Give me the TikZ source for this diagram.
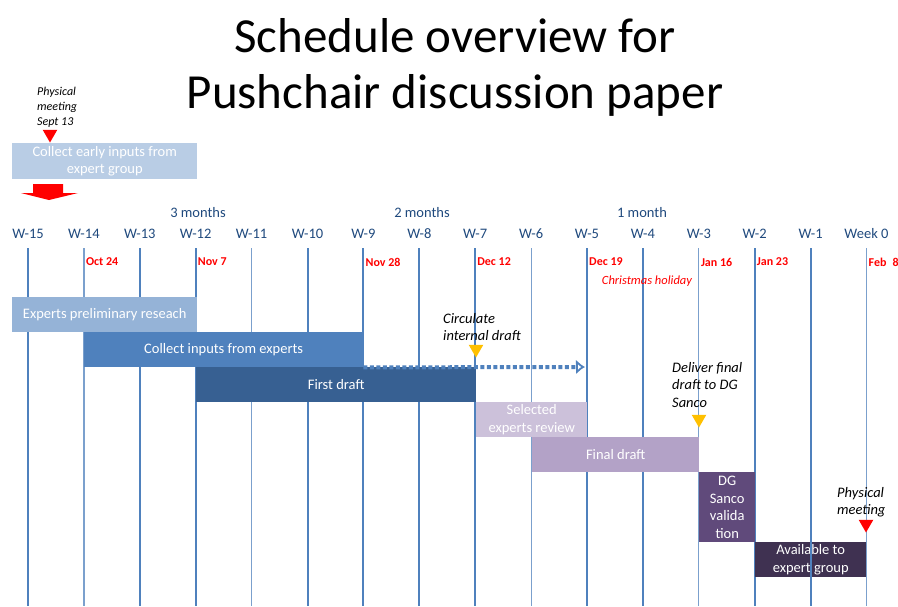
\documentclass[tikz,border=0pt]{standalone}
\usepackage{fontspec}
\setmainfont{Carlito}
\usetikzlibrary{arrows.meta,shapes.geometric}

\definecolor{lineblue}{HTML}{4F81BD}
\definecolor{weekblue}{HTML}{1F497D}
\definecolor{earlyblue}{HTML}{B9CDE5}
\definecolor{prelimblue}{HTML}{95B3D7}
\definecolor{collectblue}{HTML}{4F81BD}
\definecolor{draftblue}{HTML}{376092}
\definecolor{reviewpurple}{HTML}{CCC1DA}
\definecolor{finalpurple}{HTML}{B3A2C7}
\definecolor{dgpurple}{HTML}{604A7B}
\definecolor{availpurple}{HTML}{3F3151}
\definecolor{markyellow}{HTML}{FFC000}

\begin{document}
\begin{tikzpicture}[x=1pt, y=-1pt,
					title/.style={anchor=base, inner sep=0pt, font=\fontsize{49}{56}\selectfont},
					week line/.style={draw=lineblue, line width=2pt},
					thin week line/.style={draw=lineblue!75, line width=1.2pt},
					week label/.style={text=weekblue, inner sep=0pt, font=\fontsize{14.5}{17}\selectfont},
					date label/.style={anchor=west, inner sep=0pt, text=red, font=\fontsize{12}{14}\selectfont\bfseries},
					bar node/.style={anchor=north west, inner sep=0pt, align=center, text=white, font=\fontsize{14.5}{17.5}\selectfont},
					note node/.style={anchor=west, inner sep=0pt, align=left, font=\fontsize{14.5}{17.5}\selectfont\itshape},
					marker/.style={regular polygon, regular polygon sides=3, shape border rotate=180, minimum size=17pt, inner sep=0pt},
					dotted arrow/.style={draw=lineblue, line width=4pt, dash pattern=on 4pt off 2.5pt, -{Latex[open, length=9pt, width=15pt, line width=2.5pt]}}]

  \useasboundingbox (0,0) rectangle (898,606);

  \node[title] (title1) at (455,52) {Schedule overview for};
  \node[title] (title2) at (455,108) {Pushchair discussion paper};

  % week grid
  \foreach \i in {0,...,15} {
    \coordinate (t\i) at (28+55.9*\i,248);
    \coordinate (b\i) at (28+55.9*\i,606);
  }
  \foreach \i in {0,2,3,5,6,7,8,10,11,13,14}
    \draw[week line] (t\i) -- (b\i);
  \foreach \i in {1,4,9,12,15}
    \draw[thin week line] (t\i) -- (b\i);

  \foreach \lab [count=\i from 0] in {W-15,W-14,W-13,W-12,W-11,W-10,W-9,W-8,W-7,W-6,W-5,W-4,W-3,W-2,W-1,Week 0}
    \node[week label] (w\i) at (28+55.9*\i,234) {\lab};

  \node[week label] (m3) at (198,213) {3 months};
  \node[week label] (m2) at (422,213) {2 months};
  \node[week label] (m1) at (642,213) {1 month};

  \foreach \i/\d in {1/Oct 24,3/Nov 7,6/Nov 28,8/Dec 12,10/Dec 19,12/Jan 16,13/Jan 23,15/Feb\enspace 8}
    \node[date label] (d\i) at (30+55.9*\i,262) {\d};
  \node[text=red, inner sep=0pt, font=\fontsize{12.5}{14}\selectfont\itshape] (xmas) at (647,281) {Christmas holiday};

  % early inputs
  \node[note node, font=\fontsize{12}{15}\selectfont\itshape] (meet1) at (37,107) {Physical\\meeting\\Sept 13};
  \node[marker, fill=red] (meet1mark) at (50,134) {};
  \node[bar node, fill=earlyblue, minimum width=185pt, minimum height=36pt] (early) at (12,143) {Collect early inputs from\\expert group};
  \fill[red] (33,184) -- (63,184) -- (63,193) -- (78,193) -- (49,200) -- (21,193) -- (33,193) -- cycle;

  % bars
  \node[bar node, fill=prelimblue, minimum width=185pt, minimum height=35pt] (prelim) at (12,297) {Experts preliminary reseach};
  \node[bar node, fill=collectblue, minimum width=279pt, minimum height=35pt] (collect) at (84,332) {Collect inputs from experts};
  \node[bar node, fill=draftblue, minimum width=280pt, minimum height=35pt] (first) at (196,367) {First draft};
  \node[bar node, fill=reviewpurple, minimum width=111pt, minimum height=35pt] (review) at (476,402) {Selected\\experts review};
  \node[bar node, fill=finalpurple, minimum width=167pt, minimum height=35pt] (final) at (532,437) {Final draft};
  \node[bar node, fill=dgpurple, minimum width=56pt, minimum height=70pt] (dg) at (699,472) {DG\\Sanco\\valida\\tion};
  \node[bar node, fill=availpurple, minimum width=111pt, minimum height=35pt] (avail) at (755,542) {Available to\\expert group};
  \draw[week line] (t14) -- (b14);

  \coordinate (reviewend) at (585,367);
  \draw[dotted arrow] (collect.south east) -- (reviewend);

  % milestones
  \node[note node] (circ) at (443,327) {Circulate\\internal draft};
  \node[marker, fill=markyellow] (circmark) at (476,349) {};
  \node[note node] (deliver) at (672,385) {Deliver final\\draft to DG\\Sanco};
  \node[marker, fill=markyellow] (delivermark) at (699,419) {};
  \node[note node] (meet2) at (837,502) {Physical\\meeting};
  \node[marker, fill=red] (meet2mark) at (866,524) {};
\end{tikzpicture}
\end{document}
